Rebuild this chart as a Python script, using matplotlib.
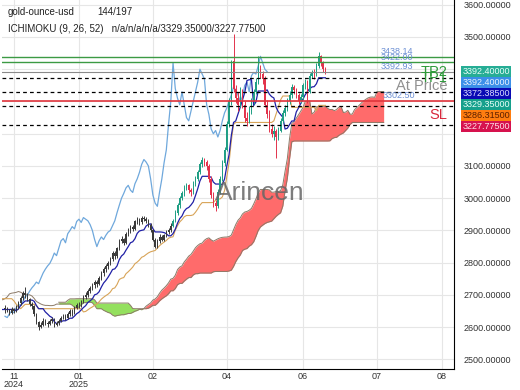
import numpy as np
import pandas as pd
import matplotlib
matplotlib.use('Agg')
import matplotlib.pyplot as plt

plt.rcParams['font.family'] = ['Liberation Sans', 'DejaVu Sans']

# bars before the visible window (only needed for the ichimoku windows)
pre_high = [2634, 2641, 2630, 2624, 2636, 2650, 2655, 2645, 2653, 2667,
            2661, 2674, 2683, 2671, 2685, 2696, 2691, 2704, 2713, 2702,
            2710, 2720, 2730, 2718, 2727, 2736, 2730, 2743, 2750, 2758,
            2752, 2760, 2746, 2726, 2710, 2694, 2683, 2669, 2677, 2662,
            2654, 2647, 2660, 2669, 2663, 2674, 2669, 2659, 2673, 2679, 2670, 2660, 2666]
pre_low = [2606, 2614, 2600, 2595, 2607, 2620, 2628, 2616, 2626, 2638,
           2633, 2646, 2654, 2644, 2656, 2668, 2662, 2676, 2684, 2674,
           2681, 2692, 2700, 2691, 2697, 2708, 2700, 2713, 2721, 2727,
           2723, 2730, 2715, 2697, 2681, 2666, 2654, 2641, 2648, 2634,
           2626, 2617, 2631, 2641, 2634, 2646, 2640, 2631, 2644, 2651, 2641, 2632, 2638]

# visible bars (144)
opens = [2655, 2660, 2652, 2645, 2655, 2650, 2662, 2675, 2690, 2705,
         2700, 2688, 2672, 2665, 2640, 2615, 2602, 2608, 2620, 2612,
         2610, 2618, 2625, 2606, 2612, 2620, 2628, 2634, 2630, 2642,
         2650, 2645, 2660, 2670, 2668, 2680, 2695, 2700, 2712, 2722,
         2730, 2740, 2735, 2752, 2768, 2780, 2790, 2798, 2812, 2830,
         2822, 2845, 2868, 2875, 2862, 2890, 2900, 2912, 2905, 2928,
         2935, 2925, 2940, 2935, 2930, 2918, 2900, 2872, 2850, 2868,
         2880, 2872, 2885, 2895, 2900, 2915, 2930, 2955, 2978, 3000,
         3015, 3032, 3040, 3025, 3018, 3045, 3060, 3080, 3105, 3120,
         3112, 3100, 3060, 3010, 2985, 2975, 3020, 3060, 3110, 3150,
         3230, 3300, 3425, 3340, 3310, 3290, 3330, 3290, 3250, 3240,
         3270, 3300, 3330, 3360, 3400, 3385, 3370, 3290, 3260, 3215,
         3200, 3210, 3190, 3210, 3240, 3265, 3280, 3300, 3320, 3345,
         3335, 3320, 3300, 3315, 3350, 3360, 3330, 3380, 3390, 3385,
         3410, 3440, 3420, 3400]
highs = [2668, 2664, 2658, 2662, 2660, 2668, 2682, 2698, 2712, 2725,
         2705, 2692, 2678, 2670, 2645, 2620, 2615, 2628, 2625, 2618,
         2625, 2632, 2628, 2618, 2626, 2635, 2640, 2640, 2648, 2656,
         2655, 2666, 2676, 2678, 2686, 2700, 2708, 2718, 2728, 2736,
         2746, 2745, 2758, 2774, 2786, 2796, 2805, 2818, 2836, 2835,
         2850, 2874, 2882, 2878, 2896, 2908, 2918, 2916, 2934, 2942,
         2940, 2946, 2945, 2942, 2935, 2922, 2905, 2878, 2875, 2888,
         2886, 2890, 2902, 2908, 2922, 2936, 2962, 2985, 3008, 3022,
         3040, 3048, 3045, 3032, 3052, 3068, 3088, 3112, 3128, 3125,
         3118, 3105, 3068, 3020, 2995, 3028, 3068, 3120, 3160, 3240,
         3310, 3428, 3510, 3350, 3330, 3345, 3338, 3300, 3268, 3285,
         3310, 3340, 3372, 3440, 3412, 3395, 3378, 3305, 3275, 3230,
         3225, 3215, 3222, 3250, 3275, 3290, 3310, 3332, 3355, 3352,
         3342, 3325, 3322, 3358, 3370, 3366, 3388, 3398, 3400, 3418,
         3452, 3445, 3425, 3408]
lows = [2645, 2646, 2638, 2640, 2644, 2646, 2658, 2670, 2686, 2692,
        2680, 2665, 2655, 2636, 2610, 2590, 2598, 2605, 2606, 2602,
        2606, 2612, 2600, 2603, 2608, 2615, 2624, 2622, 2626, 2636,
        2636, 2640, 2655, 2660, 2662, 2675, 2688, 2694, 2705, 2715,
        2722, 2726, 2730, 2745, 2760, 2772, 2782, 2792, 2806, 2812,
        2815, 2840, 2860, 2855, 2858, 2882, 2892, 2898, 2900, 2920,
        2918, 2920, 2928, 2922, 2912, 2895, 2866, 2845, 2846, 2860,
        2866, 2868, 2880, 2888, 2895, 2910, 2925, 2948, 2970, 2995,
        3008, 3025, 3015, 3008, 3012, 3038, 3052, 3075, 3098, 3100,
        3088, 3050, 3002, 2972, 2960, 2970, 3012, 3055, 3100, 3145,
        3220, 3290, 3330, 3295, 3272, 3282, 3280, 3235, 3225, 3232,
        3262, 3292, 3322, 3355, 3372, 3355, 3282, 3250, 3205, 3190,
        3182, 3124, 3180, 3205, 3232, 3255, 3272, 3292, 3310, 3322,
        3310, 3292, 3295, 3305, 3340, 3295, 3325, 3372, 3370, 3380,
        3405, 3410, 3392, 3386]
closes = [2660, 2652, 2645, 2655, 2650, 2662, 2675, 2690, 2705, 2700,
          2688, 2672, 2665, 2640, 2615, 2602, 2608, 2620, 2612, 2610,
          2618, 2625, 2606, 2612, 2620, 2628, 2634, 2630, 2642, 2650,
          2645, 2660, 2670, 2668, 2680, 2695, 2700, 2712, 2722, 2730,
          2740, 2735, 2752, 2768, 2780, 2790, 2798, 2812, 2830, 2822,
          2845, 2868, 2875, 2862, 2890, 2900, 2912, 2905, 2928, 2935,
          2925, 2940, 2935, 2930, 2918, 2900, 2872, 2850, 2868, 2880,
          2872, 2885, 2895, 2900, 2915, 2930, 2955, 2978, 3000, 3015,
          3032, 3040, 3025, 3018, 3045, 3060, 3080, 3105, 3120, 3112,
          3100, 3060, 3010, 2985, 2975, 3020, 3060, 3110, 3150, 3230,
          3300, 3420, 3340, 3310, 3290, 3330, 3290, 3250, 3240, 3270,
          3300, 3330, 3360, 3400, 3385, 3370, 3290, 3260, 3215, 3200,
          3210, 3190, 3210, 3240, 3265, 3280, 3300, 3320, 3345, 3335,
          3320, 3300, 3315, 3350, 3360, 3330, 3380, 3390, 3385, 3410,
          3440, 3420, 3400, 3392.4]

tick_pos = [4, 33, 66, 99, 133, 166, 195]
tick_lab = ['11\n2024', '01\n2025', '02', '04', '06', '07', '08']
price_ticks = [2500, 2600, 2700, 2800, 2900, 3000, 3100, 3200, 3300, 3400, 3500, 3600]
hidden_ticks = [3200, 3300, 3400]   # covered by the value tags

levels_green = [3438.14, 3422.00]
level_entry = 3392.93
level_sl = 3302.50
dash_levels = [3372.385, 3329.35, 3286.315, 3227.775]

right_vals = ['3392.40000', '3392.40000', '3372.38500', '3329.35000', '3286.31500', '3227.77500']
right_bg = ['#26ad95', '#3b8fe8', '#0a0ab4', '#16a08c', '#ff7d10', '#d6124e']
right_fg = ['#e8fff8', '#eaf2ff', '#dcdcff', '#e8fff8', '#5a1e00', '#ffe0e8']

# ichimoku
npre = len(pre_high)
hi = pd.Series(pre_high + highs, dtype=float)
lo = pd.Series(pre_low + lows, dtype=float)
tenkan = (hi.rolling(9).max() + lo.rolling(9).min()) / 2
kijun = (hi.rolling(26).max() + lo.rolling(26).min()) / 2
span_a = (tenkan + kijun) / 2
span_b = (hi.rolling(52).max() + lo.rolling(52).min()) / 2
xfull = np.arange(len(hi)) - npre
xlead = xfull + 26
cl = np.array(closes)
n = len(cl)
idx = np.arange(n)

fig = plt.figure(figsize=(5.2, 3.9), dpi=100)
ax = fig.add_axes([2 / 520, 21 / 390, 452 / 520, 369 / 390])

# cloud
a = span_a.values
b = span_b.values
ok = ~np.isnan(a) & ~np.isnan(b)
ax.fill_between(xlead[ok], a[ok], b[ok], where=a[ok] >= b[ok], interpolate=True,
                color='#ff6b6b', lw=0, zorder=1)
ax.fill_between(xlead[ok], a[ok], b[ok], where=a[ok] < b[ok], interpolate=True,
                color='#94e05e', lw=0, zorder=1)
ax.plot(xlead, a, color='#8c7a68', lw=0.7, zorder=2)
ax.plot(xlead, b, color='#8c7a68', lw=0.7, zorder=2)

# chikou, kijun, tenkan
ax.plot(idx[:n - 26], cl[26:], color='#6fa8dc', lw=0.9, zorder=3)
ax.plot(xfull, kijun, color='#d8a458', lw=0.8, zorder=3)
ax.plot(xfull, tenkan, color='#2020a6', lw=0.9, zorder=4)

# candles
op = np.array(opens)
hg = np.array(highs)
lw_ = np.array(lows)
cols = np.where(idx < 75, '#3a3a3a', np.where(cl >= op, '#1f9e84', '#e2334c'))
ax.vlines(idx, lw_, hg, colors=cols, lw=0.7, zorder=5)
body = np.maximum(np.abs(cl - op), 2)
ax.bar(idx, body, bottom=np.minimum(cl, op), width=0.6, color=cols, lw=0, zorder=5)

# levels
for v in levels_green:
    ax.axhline(v, color='#3c9a44', lw=1.0, zorder=6)
ax.axhline(level_entry, color='#8a8a8a', lw=0.8, zorder=6)
ax.axhline(level_sl, color='#e0343c', lw=1.2, zorder=6)
for v in dash_levels:
    ax.axhline(v, color='black', lw=0.9, ls=(0, (3, 2.5)), zorder=6)

for v, s in zip(levels_green + [level_entry], ['3438.14', '3422.00', '3392.93']):
    ax.text(167.5, v + 2, s, color='#6c8fd4', fontsize=6.5, va='bottom', ha='left', zorder=7)
ax.text(168.5, level_sl + 2, '3302.50', color='#6c8fd4', fontsize=6.5, va='bottom', ha='left', zorder=7)

ax.text(197.3, 3392, 'TP2', color='#2e9a3a', fontsize=10.5, ha='right', va='center', zorder=7)
ax.text(197.3, 3374, 'TP1', color='#2e9a3a', fontsize=10.5, ha='right', va='center', zorder=7)
ax.text(197.3, 3348, 'At Price', color='#909090', fontsize=10.5, ha='right', va='center', zorder=7)
ax.text(197.3, 3258, 'SL', color='#d8283c', fontsize=10.5, ha='right', va='center', zorder=7)

ax.text(0.571, 0.477, 'Arincen', transform=ax.transAxes, fontsize=19, color='#666666',
        alpha=0.85, ha='center', va='center', zorder=8)

ax.text(0.013, 0.967, 'gold-ounce-usd', transform=ax.transAxes, fontsize=7, color='#222222', va='center')
ax.text(0.21, 0.967, '144/197', transform=ax.transAxes, fontsize=7, color='#222222', va='center')
ax.text(0.013, 0.921, 'ICHIMOKU (9, 26, 52)   n/a/n/a/n/a/3329.35000/3227.77500',
        transform=ax.transAxes, fontsize=7, color='#222222', va='center')

# right side value tags
for k, (s, bg, fg) in enumerate(zip(right_vals, right_bg, right_fg)):
    ax.annotate(s, xy=(1, 3392.4), xycoords=('axes fraction', 'data'),
                xytext=(6, -k * 7.9), textcoords='offset points', fontsize=6.5,
                color=fg, va='center', ha='left', annotation_clip=False,
                bbox=dict(boxstyle='square,pad=0.1', fc=bg, ec='none'))

ax.set_xlim(-1.34, 200.4)
ax.set_ylim(2470.5, 3614.7)
ax.set_yticks(price_ticks)
ax.set_yticklabels(['' if t in hidden_ticks else '%.5f' % t for t in price_ticks])
ax.yaxis.tick_right()
ax.set_xticks(tick_pos)
ax.set_xticklabels(tick_lab, linespacing=0.85)
ax.tick_params(axis='both', length=0, labelsize=6.5, colors='#333333')
ax.tick_params(axis='y', pad=7)
ax.tick_params(axis='x', pad=2)
ax.grid(True, color='#e6e6e6', lw=0.8, zorder=0)
ax.set_axisbelow(True)
for sp in ['left', 'top']:
    ax.spines[sp].set_visible(False)
ax.spines['right'].set_color('black')
ax.spines['bottom'].set_color('black')

fig.savefig('out.png', dpi=100)
